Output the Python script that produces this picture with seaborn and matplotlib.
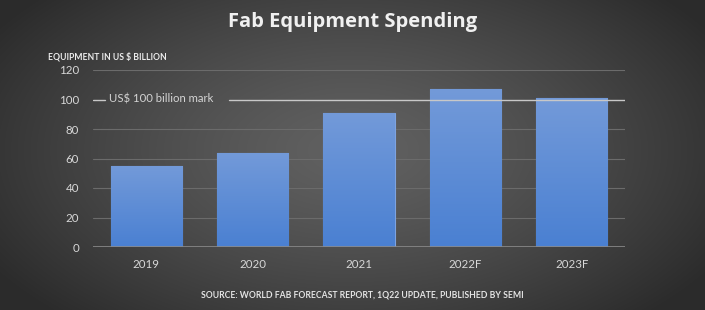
import numpy as np
import pandas as pd
import matplotlib
matplotlib.use("Agg")
import matplotlib.pyplot as plt
import seaborn as sns
from matplotlib.colors import LinearSegmentedColormap

years = ["2019", "2020", "2021", "2022F", "2023F"]
spending = [55, 64, 91, 107, 101]
yticks = [0, 20, 40, 60, 80, 100, 120]
mark_value = 100
mark_label = "US$ 100 billion mark"
title = "Fab Equipment Spending"
ylabel = "EQUIPMENT IN US $ BILLION"
source = "SOURCE: WORLD FAB FORECAST REPORT, 1Q22 UPDATE, PUBLISHED BY SEMI"

df = pd.DataFrame({"year": years, "spending": spending})

sns.set_theme(style="white")
plt.rcParams["font.family"] = ["Lato", "DejaVu Sans"]

W, H = 705, 310
fig = plt.figure(figsize=(W / 100, H / 100), dpi=100)

# radial gradient background
bg = fig.add_axes([0, 0, 1, 1], zorder=0)
yy, xx = np.mgrid[0:H, 0:W]
r = np.sqrt(((xx - 352) / 420.0) ** 2 + ((yy - 150) / 230.0) ** 2)
r = np.clip(r, 0, 1)
val = 0.38 - 0.21 * r ** 1.3
img = np.dstack([val, val, val])
bg.imshow(img, extent=[0, 1, 0, 1], aspect="auto", origin="upper")
bg.axis("off")

ax = fig.add_axes([93 / W, 1 - 247 / H, 532 / W, 177 / H], zorder=1)
ax.set_facecolor("none")

sns.barplot(data=df, x="year", y="spending", ax=ax, color="#5a89d6",
            width=0.67, edgecolor="#7ea3e0", linewidth=0.8, saturation=1, zorder=3)

# vertical gradient inside each bar
grad = np.linspace(0, 1, 256).reshape(-1, 1)
cmap = LinearSegmentedColormap.from_list("bar", ["#4a80d2", "#739ad9"])
for p in ax.patches:
    x0, y0 = p.get_x(), p.get_y()
    w, h = p.get_width(), p.get_height()
    im = ax.imshow(grad, extent=[x0, x0 + w, y0, y0 + h], origin="lower",
                   aspect="auto", cmap=cmap, zorder=3.5)
    im.set_clip_path(p)

ax.set_xlim(-0.5, 4.5)
ax.set_ylim(0, 120)
ax.set_yticks(yticks)
for t in yticks:
    if t in (0, mark_value):
        continue
    ax.axhline(t, color="#6b6b6b", lw=0.8, zorder=1)
ax.axhline(0, color="#8a8a8a", lw=1.2, zorder=4)

ax.axhline(mark_value, xmin=0, xmax=0.0226, color="#c8c8c8", lw=1.0, zorder=4)
ax.axhline(mark_value, xmin=0.2556, xmax=1, color="#c8c8c8", lw=1.0, zorder=4)
ax.text(-0.35, mark_value, mark_label, color="#d4d4d4", fontsize=8.2,
        va="center", ha="left", zorder=5)

for s in ax.spines.values():
    s.set_visible(False)
ax.tick_params(axis="both", length=0, colors="#d8d8d8", labelsize=8.3)
ax.tick_params(axis="y", pad=10)
ax.tick_params(axis="x", pad=9)
ax.set_xlabel("")
ax.set_ylabel("")

fig.text(353 / W, 1 - 22 / H, title, ha="center", va="center", color="#f0f0f0",
         fontsize=14.5, fontweight="bold", family=["Open Sans", "DejaVu Sans"])
fig.text(48 / W, 1 - 57 / H, ylabel, ha="left", va="center", color="#ececec",
         fontsize=6.2, fontweight="bold")
fig.text(362 / W, 1 - 295 / H, source, ha="center", va="center", color="#e4e4e4",
         fontsize=6.2, fontweight="bold")

fig.savefig("out.png", dpi=100)
